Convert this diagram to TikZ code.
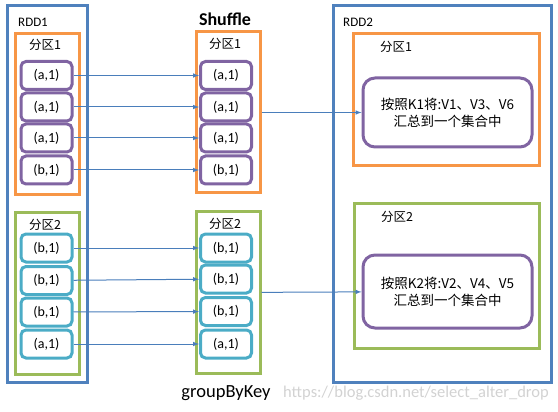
\documentclass[tikz,border=0pt]{standalone}
\usepackage{fontspec}
\setmainfont{Carlito}
\newfontfamily\cjk{Noto Sans CJK SC}
\usepackage{tikz}
\usetikzlibrary{arrows}
\definecolor{rddblue}{HTML}{4F81BD}
\definecolor{partorange}{HTML}{F79646}
\definecolor{partgreen}{HTML}{9BBB59}
\definecolor{recpurple}{HTML}{8064A2}
\definecolor{reccyan}{HTML}{4BACC6}
\definecolor{flowblue}{HTML}{4A7EBB}

\begin{document}
\begin{tikzpicture}[x=1pt,y=-1pt,
  rdd/.style={draw=rddblue,line width=3pt,inner sep=0pt,minimum width=#1,minimum height=376pt},
  part/.style={draw=#1,line width=3pt,inner sep=0pt},
  rec/.style={draw=#1,line width=3pt,rounded corners=5pt,inner sep=0pt,minimum width=51pt,minimum height=28pt,font=\fontsize{14}{16}\selectfont},
  group/.style={draw=recpurple,line width=3pt,rounded corners=12pt,inner sep=0pt,minimum width=169pt,align=center,font=\cjk\fontsize{13.5}{17}\selectfont},
  plabel/.style={font=\cjk\fontsize{12.5}{14}\selectfont,inner sep=0pt},
  flow/.style={->,>=latex,draw=flowblue,line width=1pt}]
\useasboundingbox (0,0) rectangle (558,412);
% rdd boxes
           \node[rdd=80pt](rddA)  at (47,194) {};
           \node[rdd=218pt](rddB)  at (442,194) {};
           \node[anchor=west,inner sep=0pt,font=\fontsize{13}{15}\selectfont](rddAname)  at (18,22) {RDD1};
           \node[anchor=west,inner sep=0pt,font=\fontsize{13}{15}\selectfont](rddBname)  at (343,22) {RDD2};
           \node[inner sep=0pt,font=\bfseries\fontsize{18}{20}\selectfont](shuffle)  at (225,19) {Shuffle};
           \node[inner sep=0pt,font=\fontsize{18.5}{20}\selectfont](groupbykey)  at (226,393) {groupByKey};
           \node[anchor=west,inner sep=0pt,text=gray!35,font=\fontsize{16.5}{18}\selectfont](mark)  at (283,393) {https://blog.csdn.net/select\_alter\_drop};
% partitions
           \node[part=partorange,minimum width=64pt,minimum height=161pt](srcA)  at (47,114.5) {};
           \node[part=partgreen,minimum width=64pt,minimum height=161pt](srcB)  at (47,293.5) {};
           \node[part=partorange,minimum width=64pt,minimum height=161pt](midA)  at (228,112.5) {};
           \node[part=partgreen,minimum width=64pt,minimum height=161pt](midB)  at (228,292.5) {};
           \node[part=partorange,minimum width=186pt,minimum height=132pt](dstA)  at (446,100) {};
           \node[part=partgreen,minimum width=185pt,minimum height=144pt](dstB)  at (446.5,276) {};
           \node[plabel](srcAname)  at (45,45) {分区1};
           \node[plabel](srcBname)  at (45,225) {分区2};
           \node[plabel](midAname)  at (225,44) {分区1};
           \node[plabel](midBname)  at (225,224) {分区2};
           \node[plabel](dstAname)  at (396,47) {分区1};
           \node[plabel](dstBname)  at (397,217) {分区2};
% records before shuffle
      \node[rec=recpurple](sa1)  at (46.5,75.5) {(a,1)};
      \node[rec=recpurple](sa2)  at (46.5,107) {(a,1)};
      \node[rec=recpurple](sa3)  at (46.5,138) {(a,1)};
      \node[rec=recpurple](sa4)  at (46.5,170) {(b,1)};
      \node[rec=reccyan](sb1)  at (46.5,248) {(b,1)};
      \node[rec=reccyan](sb2)  at (46.5,280.5) {(b,1)};
      \node[rec=reccyan](sb3)  at (46.5,312) {(b,1)};
      \node[rec=reccyan](sb4)  at (46.5,344) {(a,1)};
% records after shuffle
      \node[rec=recpurple](ma1)  at (226,75.5) {(a,1)};
      \node[rec=recpurple](ma2)  at (226,107) {(a,1)};
      \node[rec=recpurple](ma3)  at (226,138) {(a,1)};
      \node[rec=recpurple](ma4)  at (226,170) {(b,1)};
      \node[rec=reccyan](mb1)  at (226,248) {(b,1)};
      \node[rec=reccyan](mb2)  at (226,279) {(b,1)};
      \node[rec=reccyan](mb3)  at (226,311.5) {(b,1)};
      \node[rec=reccyan](mb4)  at (226,344) {(a,1)};
% grouped values
      \node[group,minimum height=69pt](gA)  at (447.5,112.5) {按照K1将:V1、V3、V6\\汇总到一个集合中};
      \node[group,minimum height=73pt](gB)  at (447.5,291.5) {按照K2将:V2、V4、V5\\汇总到一个集合中};
% flows
      \draw[flow] (sa1) -- (ma1);
      \draw[flow] (sa2) -- (ma2);
      \draw[flow] (sa3) -- (ma3);
      \draw[flow] (sa4) -- (ma4);
      \draw[flow] (sb1) -- (mb1);
      \draw[flow] (sb2) -- (mb2);
      \draw[flow] (sb3) -- (mb3);
      \draw[flow] (sb4) -- (mb4);
      \draw[flow] (midA) -- (gA);
      \draw[flow] (midB) -- (gB);
          \end{tikzpicture}
\end{document}
